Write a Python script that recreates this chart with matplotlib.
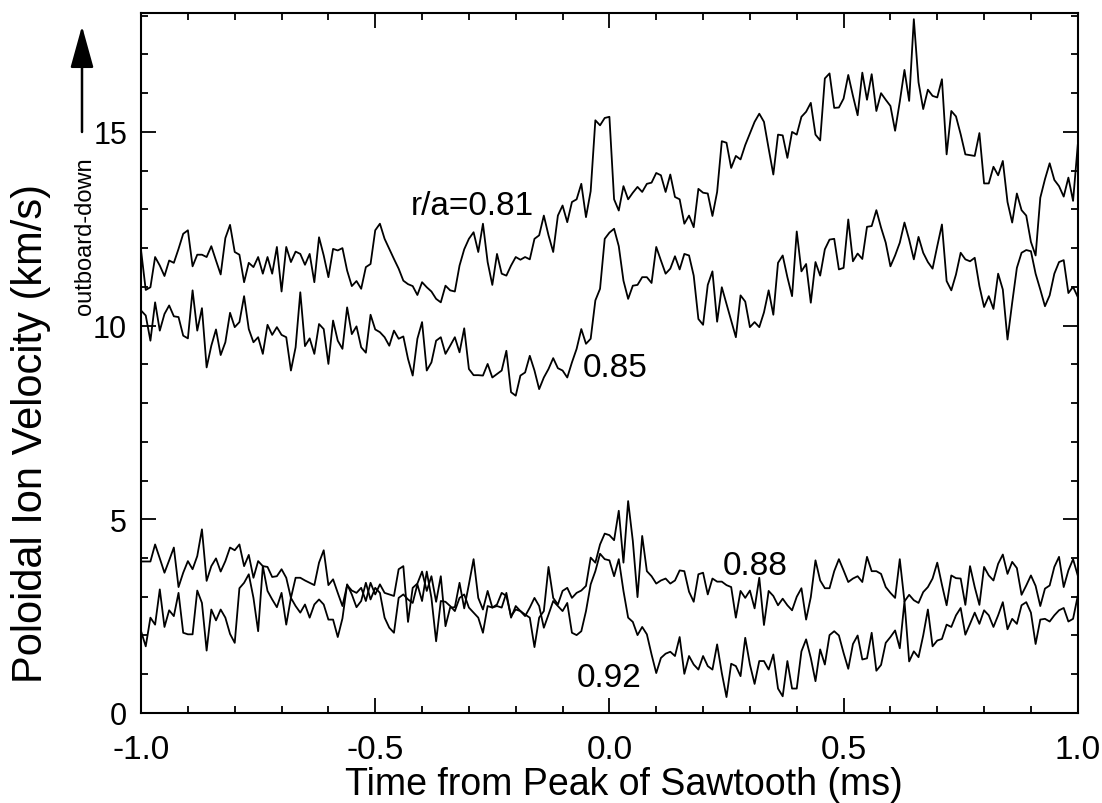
import numpy as np
import matplotlib
matplotlib.use("Agg")
import matplotlib.pyplot as plt
from matplotlib.ticker import MultipleLocator

# poloidal ion velocity (km/s), 0.01 ms steps from -1.0 to 1.0
v081 = [11.94, 10.92, 10.99, 11.77, 11.55, 11.28, 11.68, 11.62, 11.98, 12.37,
        12.46, 11.53, 11.83, 11.83, 11.77, 12.05, 11.68, 11.32, 12.26, 12.60,
        11.90, 11.83, 11.12, 11.62, 11.51, 11.77, 11.34, 11.77, 11.34, 12.03,
        10.88, 12.03, 11.64, 11.91, 11.85, 11.57, 11.85, 11.12, 12.28, 11.81,
        11.25, 11.98, 11.94, 12.00, 11.42, 11.02, 11.15, 10.95, 11.51, 11.59,
        12.46,
        12.63, 12.24, 11.98, 11.72, 11.47, 11.16, 11.07, 11.02, 10.79, 11.12,
        10.99, 10.88, 10.69, 10.60, 11.03, 10.91, 10.88, 11.55, 11.97, 12.24,
        12.41, 11.90, 12.63, 11.64, 11.05, 11.85, 11.34, 11.29, 11.55, 11.77,
        11.70, 11.77, 11.71, 12.24, 12.33, 12.84, 12.33, 11.90, 12.84, 13.10,
        12.67, 13.19, 13.26, 13.66, 12.80, 13.47, 15.30, 15.17, 15.36,
        15.39, 13.26, 12.97, 13.60, 13.26, 13.43, 13.58, 13.45, 13.66, 13.69,
        13.94, 13.88, 13.45, 13.90, 13.32, 13.26, 12.63, 12.84, 12.54, 13.53,
        13.43, 13.41, 12.83, 13.45, 14.76, 14.72, 14.07, 14.38, 14.29, 14.66,
        14.96, 15.26, 15.47, 15.26, 14.57, 13.90, 14.93, 14.91, 14.33, 15.00,
        14.93, 15.39, 15.52, 15.75, 14.93, 14.78, 16.38, 16.51, 15.62,
        15.63, 15.86, 16.47, 15.93, 15.43, 16.53, 15.83, 16.49, 15.54, 16.00,
        15.83, 15.67, 15.03, 15.78, 16.60, 15.80, 17.91, 16.28, 15.59, 16.09,
        15.93, 15.89, 16.36, 14.42, 15.54, 15.40, 14.94, 14.42, 14.40, 14.38,
        14.97, 13.67, 13.67, 14.10, 13.88, 14.25, 13.19, 12.66, 13.41, 12.98,
        12.84, 12.16, 11.81, 13.30, 13.78, 14.19, 13.76, 13.60, 13.33, 13.82,
        13.22, 14.66]

v085 = [10.39, 10.26, 9.61, 10.60, 9.87, 10.30, 10.52, 10.24, 10.22, 9.74,
        9.67, 10.91, 9.87, 10.45, 8.92, 9.48, 9.90, 9.24, 9.57, 10.33,
        9.96, 10.09, 10.76, 9.91, 9.57, 9.70, 9.27, 10.02, 9.76, 9.96,
        9.76, 9.70, 8.84, 9.44, 10.86, 9.47, 9.67, 9.27, 10.04, 9.91,
        9.01, 10.13, 9.61, 9.40, 10.47, 9.78, 9.98, 9.44, 9.30, 10.28,
        9.90,
        9.83, 9.70, 9.48, 9.87, 9.66, 9.72, 9.14, 8.71, 9.66, 10.09,
        8.84, 9.05, 9.61, 9.70, 9.27, 9.48, 9.70, 9.31, 9.93, 8.88,
        8.72, 8.72, 8.71, 9.01, 8.66, 8.75, 8.84, 9.35, 8.28, 8.19,
        8.71, 8.79, 9.22, 8.84, 8.36, 8.66, 8.88, 9.16, 8.90, 8.84,
        8.66, 9.05, 9.40, 9.91, 9.53, 9.66, 10.65, 10.95, 12.24,
        12.40, 12.50, 12.05, 11.16, 10.69, 11.03, 11.05, 11.25, 11.25, 11.10,
        12.03, 11.68, 11.34, 11.47, 11.79, 11.45, 11.85, 11.81, 11.29, 10.17,
        10.02, 11.05, 11.40, 10.10, 10.99, 10.56, 10.13, 9.70, 10.78, 10.62,
        9.96, 10.09, 9.96, 10.34, 10.91, 10.28, 11.62, 11.81, 11.25, 10.76,
        12.43, 11.40, 11.59, 10.59, 11.64, 11.29, 11.97, 12.22, 12.24,
        11.45, 11.49, 12.74, 11.66, 11.86, 11.72, 12.55, 12.57, 12.98, 12.53,
        12.14, 11.53, 11.81, 12.14, 12.66, 12.22, 11.71, 12.29, 11.88, 11.64,
        11.47, 12.05, 12.61, 11.15, 10.91, 11.32, 11.88, 11.71, 11.66, 11.75,
        11.02, 10.48, 10.76, 10.43, 11.34, 10.93, 9.64, 10.59, 11.49, 11.88,
        11.95, 11.92, 11.34, 10.93, 10.50, 10.78, 11.34, 11.64, 11.69, 10.84,
        11.00, 10.74]

v088 = [3.91, 3.91, 3.91, 4.35, 3.99, 3.62, 3.94, 4.27, 3.25, 3.62,
        3.92, 3.71, 4.05, 4.74, 3.41, 3.79, 3.99, 3.65, 3.92, 4.27,
        4.20, 4.35, 3.79, 4.08, 3.49, 3.92, 3.79, 3.77, 3.51, 3.53,
        3.71, 3.49, 2.97, 3.49, 3.49, 3.42, 3.36, 3.30, 3.88, 4.20,
        3.30, 3.45, 3.10, 2.76, 3.30, 3.16, 3.10, 3.23, 2.89, 3.36,
        3.06,
        3.32, 3.10, 3.06, 3.02, 3.71, 3.79, 2.35, 3.23, 3.34, 3.65,
        3.15, 3.53, 2.87, 3.53, 2.24, 2.72, 2.73, 3.36, 2.70, 3.32,
        3.97, 2.97, 2.67, 3.15, 2.72, 2.80, 3.10, 3.02, 2.50, 2.67,
        2.63, 2.54, 2.46, 1.70, 2.46, 2.63, 3.77, 2.97, 2.80, 3.15,
        3.23, 2.97, 3.10, 3.16, 3.28, 4.01, 3.88, 4.35, 4.63,
        4.59, 4.46, 5.22, 3.88, 5.47, 4.44, 2.99, 4.57, 3.66, 3.53,
        3.34, 3.42, 3.47, 3.34, 3.42, 3.68, 3.66, 3.13, 2.87, 3.58,
        3.62, 3.06, 3.47, 3.39, 3.39, 3.30, 3.25, 2.46, 3.15, 2.97,
        3.16, 2.70, 3.49, 2.27, 3.15, 3.02, 2.78, 2.95, 2.78, 2.65,
        3.00, 3.22, 2.41, 2.99, 3.94, 3.42, 3.22, 3.22, 3.66,
        3.97, 3.68, 3.38, 3.47, 3.53, 3.38, 4.03, 3.66, 3.66, 3.59,
        3.25, 3.10, 2.97, 3.97, 2.88, 3.05, 2.91, 2.84, 3.12, 3.25,
        3.47, 3.88, 3.31, 2.78, 3.55, 3.48, 3.47, 2.79, 3.79, 3.25,
        2.79, 3.77, 3.55, 3.42, 3.85, 4.09, 3.59, 3.90, 3.74, 3.05,
        3.29, 3.55, 3.28, 2.76, 3.21, 3.29, 3.77, 4.03, 3.25, 3.68,
        3.97, 3.55]

v092 = [2.11, 1.72, 2.46, 2.28, 3.19, 2.22, 2.65, 2.50, 3.10, 2.07,
        2.03, 2.03, 3.16, 2.84, 1.61, 2.67, 2.39, 2.67, 2.46, 2.04,
        1.81, 3.22, 3.36, 3.58, 2.97, 2.11, 3.79, 3.15, 2.93, 2.73,
        3.10, 2.28, 2.97, 2.76, 2.59, 2.80, 2.46, 2.80, 2.93, 2.80,
        2.41, 2.41, 1.96, 2.44, 3.32, 3.06, 2.73, 2.89, 3.36, 2.93,
        3.23,
        3.10, 2.46, 2.20, 2.07, 2.97, 3.06, 2.93, 2.84, 3.32, 2.89,
        3.65, 2.97, 1.85, 2.89, 2.87, 2.76, 2.63, 2.97, 3.06, 2.72,
        2.59, 2.46, 2.07, 2.76, 2.72, 2.76, 2.72, 3.10, 2.46, 2.76,
        2.63, 2.50, 2.72, 2.97, 2.76, 2.20, 2.54, 2.89, 2.76, 2.63,
        2.84, 2.07, 2.01, 2.11, 2.63, 3.32, 3.66, 4.11, 3.97,
        3.94, 3.53, 3.97, 3.15, 2.46, 2.35, 2.01, 2.22, 2.03, 1.51,
        1.03, 1.42, 1.53, 1.58, 1.47, 1.96, 1.01, 1.47, 1.25, 1.12,
        1.47, 1.21, 1.12, 1.77, 1.03, 0.41, 1.27, 1.21, 0.95, 1.94,
        1.25, 0.75, 1.34, 1.34, 1.12, 1.51, 0.63, 0.43, 1.34, 0.63,
        0.63, 1.59, 1.90, 1.42, 0.82, 1.64, 1.25, 2.01, 2.11,
        2.00, 1.55, 1.14, 1.78, 2.00, 1.38, 1.41, 2.07, 1.09, 1.24,
        1.81, 1.96, 2.13, 1.67, 2.88, 1.33, 1.59, 1.44, 2.00, 2.67,
        1.72, 1.87, 1.91, 2.28, 2.22, 2.52, 2.71, 2.02, 2.30, 2.59,
        2.30, 2.65, 2.52, 2.22, 2.52, 2.86, 2.16, 2.43, 2.30, 2.78,
        2.86, 2.59, 1.78, 2.41, 2.43, 2.36, 2.52, 2.65, 2.71, 2.36,
        2.43, 3.02]

series = [v081, v085, v088, v092]
labels = ["r/a=0.81", "0.85", "0.88", "0.92"]
# where each label sits (time, velocity)
label_pos = [(-0.293, 12.88), (0.013, 8.70), (0.312, 3.59), (0.0, 0.70)]

regular = ["Liberation Sans", "DejaVu Sans"]

fig = plt.figure(figsize=(11.02, 8.04), dpi=100)
ax = fig.add_axes([0.128, 0.112, 0.850, 0.8706])

for v in series:
    t = np.linspace(-1.0, 1.0, len(v))
    ax.plot(t, v, color="black", lw=1.3)

for lab, (x, y) in zip(labels, label_pos):
    ax.text(x, y, lab, ha="center", va="baseline", fontsize=24, family=regular)

ax.set_xlim(-1.0, 1.0)
ax.set_ylim(0, 18.07)
ax.xaxis.set_minor_locator(MultipleLocator(0.1))
ax.yaxis.set_minor_locator(MultipleLocator(1))
ax.set_yticks([0, 5, 10, 15])
ax.set_xticks([-1.0, -0.5, 0.0, 0.5, 1.0])
ax.set_xticklabels(["-1.0", "-0.5", "0.0", "0.5", "1.0"], family=regular, fontsize=24)
ax.set_yticklabels(["0", "5", "10", "15"], family=regular, fontsize=22)
ax.tick_params(which="both", direction="in", top=True, right=True, width=1.3)
ax.tick_params(which="major", length=11)
ax.tick_params(which="minor", length=5)
ax.tick_params(axis="y", pad=10)
ax.tick_params(axis="x", pad=15)
for s in ax.spines.values():
    s.set_linewidth(1.5)

ax.set_xlabel("Time from Peak of Sawtooth (ms)", family=regular, fontsize=27, va="center")
ax.xaxis.set_label_coords(0.515, -0.101)
ax.set_ylabel("Poloidal Ion Velocity (km/s)", family=regular, fontsize=30, va="center")
ax.yaxis.set_label_coords(-0.118, 0.40)

# direction note with arrow, left of the axis
fig.text(85 / 1102, 1 - 236 / 804, "outboard-down", rotation=90, ha="center", va="center",
         fontsize=17, family=regular)
ax.annotate("", xy=(82 / 1102, 1 - 27 / 804), xytext=(82 / 1102, 1 - 133 / 804),
            xycoords="figure fraction", textcoords="figure fraction",
            arrowprops=dict(arrowstyle="-|>,head_length=1.3,head_width=0.36",
                            lw=1.8, color="black", mutation_scale=20,
                            shrinkA=0, shrinkB=0))

fig.savefig("out.png", dpi=100)
